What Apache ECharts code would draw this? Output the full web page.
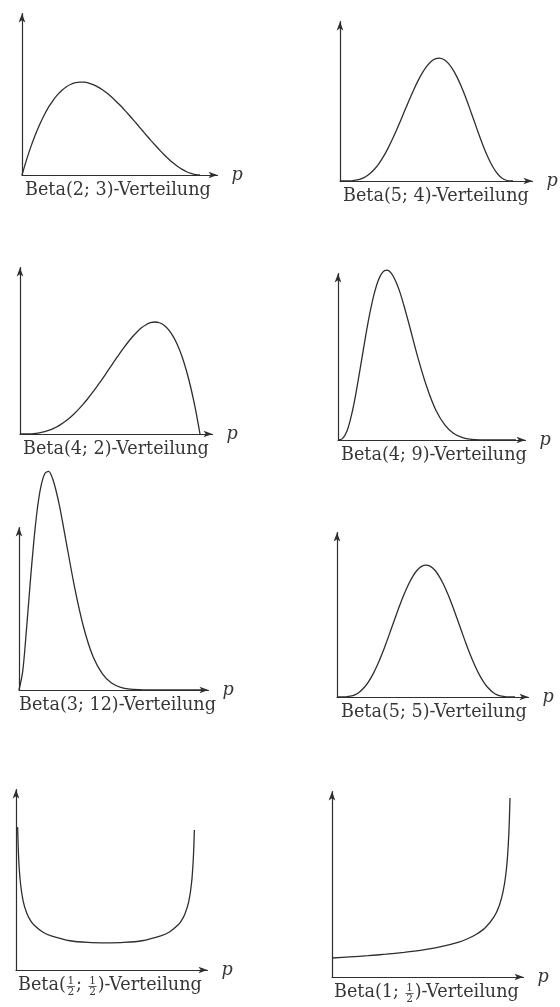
<!DOCTYPE html>
<html><head><meta charset="utf-8">
<script src="https://cdn.jsdelivr.net/npm/echarts@6/dist/echarts.min.js"></script>
<style>html,body{margin:0;padding:0;background:#fff}#c{width:560px;height:1007px}</style>
</head><body><div id="c"></div>
<script>
// ---- data ----
const titles = ['Beta(2; 3)-Verteilung','Beta(5; 4)-Verteilung','Beta(4; 2)-Verteilung','Beta(4; 9)-Verteilung',
  'Beta(3; 12)-Verteilung','Beta(5; 5)-Verteilung','Beta({1/2}; {1/2})-Verteilung','Beta(1; {1/2})-Verteilung'];
const axisName = 'p';

const pGrid = [0,.025,.05,.075,.1,.125,.15,.175,.2,.225,.25,.275,.3,.325,.35,.375,.4,.425,.45,.475,.5,
  .525,.55,.575,.6,.625,.65,.675,.7,.725,.75,.775,.8,.825,.85,.875,.9,.925,.95,.975,1];

const d_2_3 = [0,.285,.542,.770,.972,1.148,1.301,1.429,1.536,1.622,1.688,1.735,1.764,1.777,1.775,1.758,1.728,1.686,1.634,1.571,1.500,
  1.421,1.337,1.246,1.152,1.055,.956,.856,.756,.658,.563,.471,.384,.303,.230,.164,.108,.062,.029,.007,0];

const d_5_4 = [0,.0001,.0015,.007,.020,.046,.087,.148,.229,.334,.461,.610,.778,.961,1.154,1.352,1.548,1.737,1.910,2.063,2.188,
  2.280,2.335,2.350,2.322,2.253,2.143,1.995,1.815,1.609,1.384,1.151,.918,.695,.493,.321,.184,.087,.029,.004,0];

const d_4_2 = [0,.0003,.0024,.008,.018,.034,.057,.088,.128,.177,.234,.302,.378,.463,.557,.659,.768,.883,1.002,1.125,1.250,
  1.375,1.497,1.616,1.728,1.831,1.922,1.999,2.058,2.096,2.109,2.095,2.048,1.965,1.842,1.675,1.458,1.187,.857,.463,0];

const p_4_9 = [0,.025,.05,.075,.1,.125,.15,.175,.2,.225,.25,.275,.3,.325,.35,.375,.4,.45,.5,.55,.6,.65,.7,.75,.8,.9,1];
const d_4_9 = [0,.025,.16,.45,.85,1.33,1.82,2.28,2.66,2.94,3.10,3.14,3.08,2.93,2.71,2.43,2.13,1.51,.97,.55,.28,.12,.045,.013,.003,0,0];

const p_3_12 = [0,.02,.04,.06,.08,.1,.12,.14,.16,.18,.2,.22,.25,.3,.35,.4,.45,.5,.55,.6,.65,.7,.8,1];
const d_3_12 = [0,.35,1.12,1.99,2.79,3.43,3.85,4.07,4.11,3.99,3.75,3.44,2.88,1.94,1.17,.63,.31,.13,.05,.017,.005,.001,0,0];

const d_5_5 = [0,.0002,.003,.015,.041,.090,.167,.274,.413,.583,.779,.995,1.225,1.459,1.688,1.901,2.090,2.247,2.364,2.436,2.461,
  2.436,2.364,2.247,2.090,1.901,1.688,1.459,1.225,.995,.779,.583,.413,.274,.167,.090,.041,.015,.003,.0002,0];

const p_h_h = [.009,.015,.025,.04,.06,.08,.1,.15,.2,.3,.4,.5,.6,.7,.8,.85,.9,.92,.94,.96,.975,.985,.991];
const d_h_h = [3.37,2.62,2.04,1.62,1.34,1.17,1.06,.89,.80,.69,.65,.64,.65,.69,.80,.89,1.06,1.17,1.34,1.62,2.04,2.62,3.30];

const p_1_h = [0,.1,.2,.3,.4,.5,.6,.7,.75,.8,.85,.9,.93,.95,.965,.975,.983,.989];
const d_1_h = [.5,.53,.56,.60,.65,.71,.79,.91,1.0,1.12,1.29,1.58,1.89,2.24,2.67,3.16,3.83,4.71];

const seriesP = [pGrid,pGrid,pGrid,p_4_9,p_3_12,pGrid,p_h_h,p_1_h];
const seriesD = [d_2_3,d_5_4,d_4_2,d_4_9,d_3_12,d_5_5,d_h_h,d_1_h];

// ---- layout (pixels) ----
// ax: y-axis x, ay: x-axis y, top: arrow tip y, tip: arrow tip x, w: px for p=1, s: px per density unit, lx: label x
const layout = [
  {ax:22, ay:175, top:9,   tip:222, w:178, s:52.3, lx:25},
  {ax:340,ay:181, top:17,  tip:537, w:173, s:52.3, lx:343},
  {ax:20, ay:434, top:263, tip:217, w:180, s:53.1, lx:23},
  {ax:338,ay:440, top:269, tip:530, w:178, s:54.1, lx:341},
  {ax:19, ay:690, top:523, tip:213, w:185, s:53.2, lx:19},
  {ax:337,ay:697, top:528, tip:533, w:178, s:53.6, lx:341},
  {ax:16, ay:970, top:785, tip:212, w:180, s:42.4, lx:18},
  {ax:332,ay:977, top:787, tip:528, w:180, s:38,   lx:334}
];
const ARROW = 9;
const INK = '#2e2e2e';
const TXT = '#363636';
const FAM = '"DejaVu Serif", "Liberation Serif", serif';
const FS = 17.6, FFS = 10.5;

const grids = [], xAxes = [], yAxes = [], series = [], graphics = [];
const mctx = document.createElement('canvas').getContext('2d');
function tw(t, size){ mctx.font = size + 'px ' + FAM; return mctx.measureText(t).width; }

layout.forEach((L, i) => {
  const gTop = L.top + ARROW/2;
  const gW = L.tip - ARROW/2 - L.ax;
  const gH = L.ay - gTop;
  grids.push({left: L.ax, top: gTop, width: gW, height: gH, containLabel: false});
  const axisLine = {show: true, onZero: false, symbol: ['none','arrow'], symbolSize: [5, ARROW],
    lineStyle: {color: INK, width: 1.2}};
  xAxes.push({type:'value', gridIndex:i, min:0, max: gW / L.w, axisLine,
    axisTick:{show:false}, axisLabel:{show:false}, splitLine:{show:false},
    name: axisName, nameLocation:'end', nameGap: 14,
    nameTextStyle:{fontFamily: FAM, fontStyle:'italic', fontSize: FS, color: TXT, verticalAlign:'middle'}});
  yAxes.push({type:'value', gridIndex:i, min:0, max: gH / L.s, axisLine,
    axisTick:{show:false}, axisLabel:{show:false}, splitLine:{show:false}});
  series.push({type:'line', xAxisIndex:i, yAxisIndex:i, smooth:0.3, showSymbol:false, symbol:'none',
    clip:false, silent:true, lineStyle:{color: INK, width: 1.3},
    data: seriesP[i].map((p, k) => [p, seriesD[i][k]])});

  // label text (with stacked fractions)
  const B = L.ay + 21;          // baseline
  const midY = B - 5.5;
  let x = L.lx;
  const parts = titles[i].split(/(\{\d+\/\d+\})/).filter(s => s.length);
  parts.forEach(part => {
    const m = part.match(/^\{(\d+)\/(\d+)\}$/);
    if (m) {
      const wn = tw(m[1], FFS), wd = tw(m[2], FFS);
      const fw = Math.max(wn, wd) + 1.5;
      const cx = x + 1 + fw / 2;
      graphics.push({type:'text', x: cx, y: B - 10, silent:true,
        style:{text: m[1], font: FFS + 'px ' + FAM, fill: TXT, textAlign:'center', textVerticalAlign:'middle'}});
      graphics.push({type:'text', x: cx, y: B + 1.5, silent:true,
        style:{text: m[2], font: FFS + 'px ' + FAM, fill: TXT, textAlign:'center', textVerticalAlign:'middle'}});
      graphics.push({type:'line', silent:true, shape:{x1: x + 1, y1: B - 4.5, x2: x + 1 + fw, y2: B - 4.5},
        style:{stroke: TXT, lineWidth: 0.8}});
      x += fw + 2;
    } else {
      graphics.push({type:'text', x: x, y: midY, silent:true,
        style:{text: part, font: FS + 'px ' + FAM, fill: TXT, textAlign:'left', textVerticalAlign:'middle'}});
      x += tw(part, FS);
    }
  });
});

const chart = echarts.init(document.getElementById('c'), null, {renderer:'canvas'});
chart.setOption({
  animation:false,
  backgroundColor:'#ffffff',
  grid: grids, xAxis: xAxes, yAxis: yAxes, series: series,
  graphic: {elements: graphics}
});
</script></body></html>
